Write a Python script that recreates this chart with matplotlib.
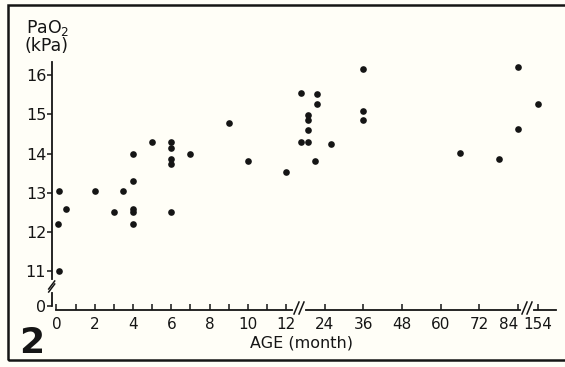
import numpy as np
import matplotlib
matplotlib.use("Agg")
import matplotlib.pyplot as plt
from matplotlib.patches import Rectangle
from matplotlib.lines import Line2D

# ---------------- data ----------------
age_months = [0.15, 0.1, 0.15, 0.5, 2, 3, 3.5,
              4, 4, 4, 4, 4,
              5, 6, 6, 6, 6, 6, 7, 9, 10, 12,
              16.7, 21.5, 21.5, 18.9, 18.9, 18.9, 16.7, 18.9, 20.9, 26,
              36, 36, 36, 66, 78, 84, 84, 154]
pao2_kpa = [13.05, 12.2, 11.0, 12.6, 13.05, 12.5, 13.05,
            14.0, 13.3, 12.6, 12.5, 12.2,
            14.3, 14.3, 14.15, 13.87, 13.73, 12.5, 14.0, 14.77, 13.82, 13.52,
            15.53, 15.52, 15.25, 14.98, 14.86, 14.61, 14.3, 14.3, 13.8, 14.24,
            16.15, 15.08, 14.85, 14.02, 13.85, 14.62, 16.2, 15.27]

x_tick_values = [0, 1, 2, 3, 4, 5, 6, 7, 8, 9, 10, 11, 12, 24, 36, 48, 60, 72, 84, 154]
x_tick_labels = ["0", "", "2", "", "4", "", "6", "", "8", "", "10", "", "12",
                 "24", "36", "48", "60", "72", "84", "154"]
y_tick_values = [0, 11, 12, 13, 14, 15, 16]
y_tick_labels = ["0", "11", "12", "13", "14", "15", "16"]

# ---------------- broken-axis scales ----------------
XM = [-1, 0, 12, 84, 154, 200]
XP = [37.4, 56.5, 286.0, 518.0, 538.0, 538.0 + 46 * 3.22]

def xf(v):
    return np.interp(v, XM, XP)

def xi(p):
    return np.interp(p, XP, XM)

YV = [-1, 0, 11, 17]
YU = [9.12, 10.12, 11.0, 17.0]

def yf(v):
    return np.interp(v, YV, YU)

def yi(u):
    return np.interp(u, YU, YV)

W, H = 565, 367
BG = "#fffef7"
INK = "#151515"

plt.rcParams["font.family"] = ["DejaVu Sans"]
plt.rcParams["mathtext.default"] = "regular"

fig = plt.figure(figsize=(W / 100, H / 100), dpi=100, facecolor=BG)
ax_left, ax_right, ax_top, ax_bottom = 51.7, 556.0, 62.0, 310.0
ax = fig.add_axes([ax_left / W, (H - ax_bottom) / H,
                   (ax_right - ax_left) / W, (ax_bottom - ax_top) / H])
ax.set_facecolor(BG)
ax.set_xscale("function", functions=(xf, xi))
ax.set_yscale("function", functions=(yf, yi))
ax.set_xlim(xi(ax_left), xi(ax_right))
ax.set_ylim(yi(10.12 - 4 / 39.3), yi(16.0 + 13 / 39.3))

ax.plot(age_months, pao2_kpa, "o", color=INK, ms=4.8, mew=0, clip_on=False)

for s in ["top", "right"]:
    ax.spines[s].set_visible(False)
for s in ["left", "bottom"]:
    ax.spines[s].set_linewidth(1.3)
    ax.spines[s].set_color(INK)
ax.spines["left"].set_bounds(0, ax.get_ylim()[1])
ax.spines["bottom"].set_bounds(0, ax.get_xlim()[1])

ax.set_xticks(x_tick_values)
ax.set_xticklabels(x_tick_labels)
ax.set_yticks(y_tick_values)
ax.set_yticklabels(y_tick_labels)
ax.xaxis.set_minor_locator(matplotlib.ticker.NullLocator())
ax.yaxis.set_minor_locator(matplotlib.ticker.NullLocator())
ax.tick_params(axis="x", direction="in", length=4, width=1.1, colors=INK,
               labelsize=11, pad=5)
ax.tick_params(axis="y", direction="out", length=3.5, width=1.1, colors=INK,
               labelsize=11.5, pad=0.5)
xlabels = ax.get_xticklabels()
xlabels[-2].set_horizontalalignment("right")
xlabels[-1].set_horizontalalignment("center")

# ---------------- axis breaks ----------------
aw = ax_right - ax_left
ah = ax_bottom - ax_top

def fx(px):
    return (px - ax_left) / aw

def fy(py):
    return (ax_bottom - py) / ah

tr = ax.transAxes
for bx in [299.0, 527.0]:
    ax.add_line(Line2D([fx(bx - 4), fx(bx + 4)], [0, 0], transform=tr,
                       color=BG, lw=3, clip_on=False, zorder=5))
    for off in (-2.5, 2.5):
        ax.add_line(Line2D([fx(bx + off - 2.5), fx(bx + off + 2.5)],
                           [fy(314), fy(302)], transform=tr, color=INK,
                           lw=1.1, clip_on=False, zorder=6))
# y-axis break
ax.add_line(Line2D([0, 0], [fy(290), fy(282)], transform=tr,
                   color=BG, lw=3, clip_on=False, zorder=5))
ax.add_line(Line2D([fx(ax_left - 3), fx(ax_left + 3)], [fy(289), fy(281)],
                   transform=tr, color=INK, lw=1.1, clip_on=False, zorder=6))
ax.add_line(Line2D([fx(ax_left - 3), fx(ax_left + 3)], [fy(292), fy(284)],
                   transform=tr, color=INK, lw=1.1, clip_on=False, zorder=6))

# ---------------- texts ----------------
fig.text(26 / W, 1 - 33 / H, "PaO$_2$", fontsize=12.5, color=INK,
         ha="left", va="baseline")
fig.text(25 / W, 1 - 51 / H, "(kPa)", fontsize=12.5, color=INK,
         ha="left", va="baseline")
fig.text(301 / W, 1 - 348 / H, "AGE (month)", fontsize=11.5, color=INK,
         ha="center", va="baseline")
fig.text(32 / W, 1 - 353 / H, "2", fontsize=26, fontweight="bold",
         color=INK, ha="center", va="baseline")

# frame
fig.patches.append(Rectangle((8 / W, 1 - 360 / H), (570 - 8) / W, (360 - 5) / H,
                             transform=fig.transFigure, fill=False,
                             edgecolor=INK, lw=1.8))

fig.savefig("out.png", dpi=100, facecolor=BG)
